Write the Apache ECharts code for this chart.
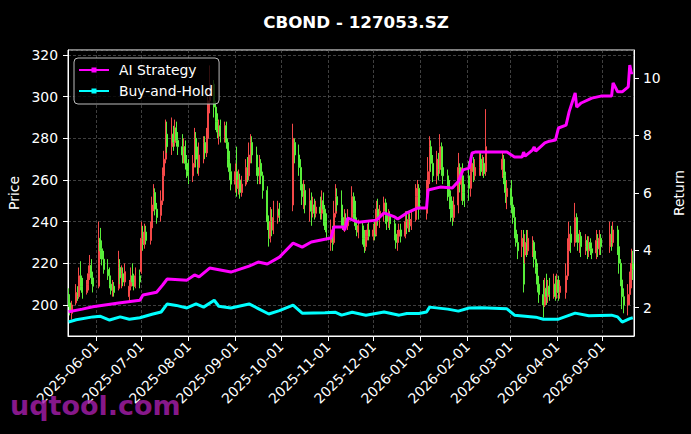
<!DOCTYPE html>
<html><head><meta charset="utf-8">
<script src="https://cdn.jsdelivr.net/npm/echarts@6/dist/echarts.min.js"></script>
<style>html,body{margin:0;padding:0;background:#000;}#c{width:691px;height:434px;}</style>
</head><body><div id="c"></div>
<script>
const chartTitle = 'CBOND - 127053.SZ';
const watermarkText = 'uqtool.com';
const priceAxisName = 'Price';
const returnAxisName = 'Return';
const seriesNames = ['AI Strategy', 'Buy-and-Hold'];

const tradeDates = [
'2025-05-14','2025-05-15','2025-05-16','2025-05-19','2025-05-20','2025-05-21','2025-05-22','2025-05-23','2025-05-26','2025-05-27','2025-05-28','2025-05-29','2025-05-30',
'2025-06-03','2025-06-04','2025-06-05','2025-06-06','2025-06-09','2025-06-10','2025-06-11','2025-06-12','2025-06-13','2025-06-16','2025-06-17','2025-06-18','2025-06-19','2025-06-20','2025-06-23','2025-06-24','2025-06-25','2025-06-26','2025-06-27','2025-06-30',
'2025-07-01','2025-07-02','2025-07-03','2025-07-04','2025-07-07','2025-07-08','2025-07-09','2025-07-10','2025-07-11','2025-07-14','2025-07-15','2025-07-16','2025-07-17','2025-07-18','2025-07-21','2025-07-22','2025-07-23','2025-07-24','2025-07-25','2025-07-28','2025-07-29','2025-07-30','2025-07-31',
'2025-08-01','2025-08-04','2025-08-05','2025-08-06','2025-08-07','2025-08-08','2025-08-11','2025-08-12','2025-08-13','2025-08-14','2025-08-15','2025-08-18','2025-08-19','2025-08-20','2025-08-21','2025-08-22','2025-08-25','2025-08-26','2025-08-27','2025-08-28','2025-08-29',
'2025-09-01','2025-09-02','2025-09-03','2025-09-04','2025-09-05','2025-09-08','2025-09-09','2025-09-10','2025-09-11','2025-09-12','2025-09-15','2025-09-16','2025-09-17','2025-09-18','2025-09-19','2025-09-22','2025-09-23','2025-09-24','2025-09-25','2025-09-26','2025-09-29','2025-09-30',
'2025-10-09','2025-10-10','2025-10-13','2025-10-14','2025-10-15','2025-10-16','2025-10-17','2025-10-20','2025-10-21','2025-10-22','2025-10-23','2025-10-24','2025-10-27','2025-10-28','2025-10-29','2025-10-30','2025-10-31',
'2025-11-03','2025-11-04','2025-11-05','2025-11-06','2025-11-07','2025-11-10','2025-11-11','2025-11-12','2025-11-13','2025-11-14','2025-11-17','2025-11-18','2025-11-19','2025-11-20','2025-11-21','2025-11-24','2025-11-25','2025-11-26','2025-11-27','2025-11-28',
'2025-12-01','2025-12-02','2025-12-03','2025-12-04','2025-12-05','2025-12-08','2025-12-09','2025-12-10','2025-12-11','2025-12-12','2025-12-15','2025-12-16','2025-12-17','2025-12-18','2025-12-19','2025-12-22','2025-12-23','2025-12-24','2025-12-25','2025-12-26','2025-12-29','2025-12-30','2025-12-31',
'2026-01-05','2026-01-06','2026-01-07','2026-01-08','2026-01-09','2026-01-12','2026-01-13','2026-01-14','2026-01-15','2026-01-16','2026-01-19','2026-01-20','2026-01-21','2026-01-22','2026-01-23','2026-01-26','2026-01-27','2026-01-28','2026-01-29','2026-01-30',
'2026-02-02','2026-02-03','2026-02-04','2026-02-05','2026-02-06','2026-02-09','2026-02-10','2026-02-11','2026-02-12','2026-02-13','2026-02-24','2026-02-25','2026-02-26','2026-02-27',
'2026-03-02','2026-03-03','2026-03-04','2026-03-05','2026-03-06','2026-03-09','2026-03-10','2026-03-11','2026-03-12','2026-03-13','2026-03-16','2026-03-17','2026-03-18','2026-03-19','2026-03-20','2026-03-23','2026-03-24','2026-03-25','2026-03-26','2026-03-27','2026-03-30','2026-03-31',
'2026-04-01','2026-04-02','2026-04-03','2026-04-07','2026-04-08','2026-04-09','2026-04-10','2026-04-13','2026-04-14','2026-04-15','2026-04-16','2026-04-17','2026-04-20','2026-04-21','2026-04-22','2026-04-23','2026-04-24','2026-04-27','2026-04-28','2026-04-29','2026-04-30',
'2026-05-06','2026-05-07','2026-05-08','2026-05-11','2026-05-12','2026-05-13','2026-05-14','2026-05-15','2026-05-18','2026-05-19','2026-05-20','2026-05-21'
];

// [open, close, low, high]
const ohlc = [
[205,201,199,208],[201,197,195,203],[196,200,193,202],[201,206,200,210],[206,204,202,209],[204,214,203,218],[214,209,207,221],[209,206,203,213],[206,210,205,212],[210,215,207,219],[215,219,212,224],[219,213,210,222],[213,209,206,216],
[209,230,208,240],[232,226,222,237],[227,222,219,231],[222,217,215,226],[217,214,212,222],[214,210,208,218],[210,207,205,213],[207,209,204,212],[209,206,204,211],[208,218,207,226],[218,213,210,222],[213,215,208,219],[215,211,209,218],[211,216,209,220],[204,209,201,212],[209,213,207,218],[214,211,209,220],[211,209,207,215],[209,214,208,218],[214,211,208,217],
[216,232,215,240],[232,229,226,238],[229,235,227,239],[235,231,229,238],[231,236,229,240],[237,248,235,252],[248,254,245,258],[254,246,243,256],[246,242,239,249],[243,250,240,255],[250,262,248,266],[262,270,259,274],[270,282,268,289],[282,276,273,288],[276,282,272,290],[282,278,274,286],[278,285,276,289],[285,279,276,288],[279,276,272,283],[276,272,268,282],[272,276,268,280],[276,268,265,279],[268,264,261,272],
[264,262,258,270],[262,268,259,272],[268,280,266,285],[280,270,266,283],[270,266,263,276],[266,272,262,278],[272,278,268,281],[278,273,270,281],[273,280,271,285],[280,298,276,303],[298,306,292,315],[306,295,290,308],[295,288,284,298],[288,283,280,292],[283,286,277,289],[286,281,278,289],[281,286,278,288],[286,278,275,288],[278,270,266,280],[270,264,260,274],[264,258,255,268],
[258,264,254,268],[264,256,252,276],[256,260,253,265],[260,254,251,263],[254,258,252,262],[258,266,257,270],[266,262,259,271],[262,272,260,278],[272,278,268,282],[278,272,268,281],[272,266,262,276],[266,262,258,271],[262,268,258,272],[268,262,258,270],[262,255,251,264],[255,240,236,257],[240,232,228,243],[232,240,230,247],[240,236,233,246],[236,242,234,250],[242,246,239,250],[246,243,240,249],
[248,280,245,287],[278,272,268,280],[272,266,262,277],[266,258,255,270],[258,252,248,262],[252,255,246,260],[255,248,244,258],[248,250,240,256],[250,245,238,254],[245,248,242,252],[248,244,241,251],[244,247,242,250],[247,244,241,252],[244,250,241,255],[250,246,238,254],[246,240,236,248],[240,235,231,244],
[230,236,226,241],[236,230,226,238],[230,244,229,250],[244,252,242,258],[252,248,245,256],[248,242,238,255],[242,238,236,248],[238,241,235,246],[241,238,236,244],[238,242,236,246],[242,252,241,257],[252,244,240,254],[244,238,236,250],[238,235,233,242],[235,238,232,241],[238,232,229,240],[232,228,225,236],[228,233,226,236],[233,236,231,239],[236,233,231,240],
[233,236,231,239],[236,233,231,240],[234,246,233,250],[246,242,238,251],[242,245,237,248],[245,249,240,252],[249,243,239,251],[243,240,236,246],[240,243,237,246],[243,239,236,245],[239,234,231,241],[234,230,227,238],[230,233,226,236],[233,236,231,239],[236,233,230,239],[233,240,232,245],[240,237,234,245],[237,241,235,245],[241,238,235,244],[238,241,236,245],[241,252,240,258],[252,256,247,260],[256,246,241,258],
[244,256,241,260],[256,264,250,271],[264,276,258,281],[276,268,264,279],[268,262,259,272],[262,270,258,274],[270,265,260,273],[265,276,263,282],[276,266,262,278],[266,262,258,269],[262,258,250,265],[258,252,246,260],[252,246,240,255],[246,242,238,250],[242,248,240,252],[248,266,244,273],[266,258,254,268],[258,262,250,266],[262,254,248,268],[254,250,247,258],
[262,256,250,269],[256,264,252,268],[264,268,260,271],[268,262,259,271],[262,266,260,270],[266,270,262,273],[270,264,262,273],[264,268,262,272],[268,263,261,271],[264,276,262,294],[265,270,261,273],[270,262,258,272],[262,254,249,264],[252,256,246,260],
[256,248,244,260],[248,242,239,252],[242,236,232,247],[236,230,228,240],[230,226,222,234],[228,232,223,236],[232,210,206,236],[224,230,220,234],[230,226,223,236],[226,232,224,236],[226,230,223,233],[230,222,218,231],[222,218,215,226],[218,210,206,220],[210,205,201,214],[205,200,194,212],[200,208,199,213],[208,204,200,215],[204,209,201,212],[209,205,202,213],[205,210,203,215],[210,204,202,214],
[206,212,203,215],[212,206,202,214],[206,209,203,212],[206,214,203,220],[214,226,212,232],[226,234,222,240],[234,230,225,238],[230,242,228,249],[242,234,230,244],[234,230,226,238],[230,233,225,236],[233,228,223,235],[228,231,224,234],[231,226,222,233],[226,230,223,233],[230,227,224,232],[227,225,222,230],[225,231,222,236],[231,227,223,234],[227,232,224,236],[232,228,224,234],
[228,234,225,240],[234,230,226,238],[230,236,228,240],[236,228,224,238],[228,220,215,230],[220,212,209,222],[212,204,198,216],[204,200,196,208],[200,205,195,210],[205,212,200,216],[212,220,208,227],[220,217,212,226]
];

const aiDates = ['2025-05-14','2025-05-23','2025-05-30','2025-06-16','2025-06-30','2025-07-02','2025-07-11','2025-07-15','2025-07-18','2025-07-31','2025-08-05','2025-08-08','2025-08-15','2025-08-29','2025-09-10','2025-09-16','2025-09-22','2025-09-30','2025-10-09','2025-10-15','2025-10-21','2025-11-03','2025-11-05','2025-11-11','2025-11-12','2025-11-14','2025-11-21','2025-12-03','2025-12-08','2025-12-15','2025-12-17','2025-12-23','2025-12-30','2026-01-05','2026-01-06','2026-01-14','2026-01-22','2026-01-26','2026-01-29','2026-02-02','2026-02-04','2026-02-06','2026-02-27','2026-03-04','2026-03-09','2026-03-10','2026-03-11','2026-03-16','2026-03-17','2026-03-18','2026-03-24','2026-03-27','2026-03-31','2026-04-02','2026-04-07','2026-04-09','2026-04-13','2026-04-14','2026-04-17','2026-04-24','2026-04-30','2026-05-07','2026-05-08','2026-05-11','2026-05-14','2026-05-18','2026-05-19','2026-05-20','2026-05-21'];
const aiReturn = [1.86,1.95,2.03,2.16,2.26,2.44,2.54,2.79,3.00,2.96,3.14,3.07,3.38,3.24,3.45,3.59,3.52,3.76,4.25,4.11,4.29,4.43,4.81,4.81,4.70,5.12,4.98,5.05,5.30,5.16,5.09,5.30,5.47,5.47,6.10,6.20,6.17,6.40,6.80,6.86,7.39,7.42,7.42,7.25,7.25,7.42,7.28,7.50,7.60,7.45,7.74,7.80,7.84,8.26,8.36,8.82,9.48,8.99,9.13,9.30,9.37,9.37,9.83,9.52,9.52,9.69,10.45,10.17,10.20];

const bhDates = ['2025-05-14','2025-05-19','2025-05-30','2025-06-04','2025-06-10','2025-06-17','2025-06-23','2025-06-30','2025-07-08','2025-07-14','2025-07-18','2025-07-24','2025-07-31','2025-08-06','2025-08-11','2025-08-18','2025-08-21','2025-08-29','2025-09-10','2025-09-16','2025-09-23','2025-09-30','2025-10-09','2025-10-15','2025-10-30','2025-11-06','2025-11-10','2025-11-17','2025-11-26','2025-12-08','2025-12-18','2025-12-23','2025-12-31','2026-01-05','2026-01-07','2026-01-19','2026-01-26','2026-02-02','2026-02-10','2026-02-27','2026-03-04','2026-03-18','2026-03-23','2026-04-02','2026-04-13','2026-04-22','2026-05-07','2026-05-11','2026-05-14','2026-05-19','2026-05-21'];
const bhReturn = [1.50,1.58,1.68,1.70,1.57,1.68,1.60,1.65,1.77,1.85,2.13,2.08,1.99,2.13,2.02,2.26,2.05,1.99,2.13,1.97,1.78,1.90,2.09,1.81,1.82,1.84,1.74,1.84,1.74,1.85,1.74,1.80,1.80,1.85,2.02,1.95,1.88,1.99,2.00,1.96,1.74,1.67,1.60,1.60,1.81,1.72,1.74,1.68,1.50,1.62,1.65];

const FONT = '"DejaVu Sans", sans-serif';
const RED = '#f44848', GREEN = '#58ee3a', MAGENTA = '#ff00ff', CYAN = '#00ffff';
const GRIDLINE = {show: true, lineStyle: {color: '#5a5a5a', width: 0.7, type: [3, 2]}};
const legendIcon = 'path://M0,1.5H30V3.5H0Z M12.5,0H17.5V5H12.5Z';

const chart = echarts.init(document.getElementById('c'), null, {renderer: 'svg'});
const candleData = tradeDates.map((d, i) => [d].concat(ohlc[i]));
const aiData = aiDates.map((d, i) => [d, aiReturn[i]]);
const bhData = bhDates.map((d, i) => [d, bhReturn[i]]);

chart.setOption({
  animation: false,
  backgroundColor: '#000',
  title: {text: chartTitle, left: 351, textAlign: 'center', top: 8,
    textStyle: {color: '#fff', fontSize: 16.7, fontWeight: 'bold', fontFamily: FONT}},
  legend: {orient: 'vertical', left: 74, top: 58, padding: [5, 6, 6, 5], itemGap: 7,
    itemWidth: 30, itemHeight: 5, backgroundColor: 'rgba(0,0,0,0.8)', borderColor: '#bbb',
    borderWidth: 1, borderRadius: 4,
    textStyle: {color: '#fff', fontSize: 13.9, fontFamily: FONT, padding: [0, 0, 0, 5]},
    data: [{name: seriesNames[0], icon: legendIcon}, {name: seriesNames[1], icon: legendIcon}]},
  grid: {left: 68, right: 57, top: 50, bottom: 98, show: true, borderColor: '#fff', borderWidth: 1,
    containLabel: false, outerBoundsMode: 'none'},
  xAxis: {type: 'time', min: new Date(2025, 4, 13, 14).getTime(), max: new Date(2026, 4, 21, 19).getTime(),
    splitNumber: 12, minInterval: 28 * 864e5, maxInterval: 31 * 864e5,
    axisLine: {show: true, lineStyle: {color: '#fff'}},
    axisTick: {show: true, length: 5, lineStyle: {color: '#fff'}},
    axisLabel: {rotate: 45, color: '#fff', fontSize: 13.9, fontFamily: FONT, margin: 8,
      formatter: '{yyyy}-{MM}-{dd}', showMinLabel: false, showMaxLabel: false, hideOverlap: false},
    splitLine: GRIDLINE},
  yAxis: [
    {type: 'value', position: 'left', min: 185.1, max: 322.4, splitNumber: 7, scale: true,
      name: priceAxisName, nameLocation: 'middle', nameGap: 40, nameRotate: 90,
      nameTextStyle: {color: '#fff', fontSize: 13.9, fontFamily: FONT},
      axisLine: {show: true, lineStyle: {color: '#fff'}},
      axisTick: {show: true, length: 5, lineStyle: {color: '#fff'}},
      axisLabel: {color: '#fff', fontSize: 13.9, fontFamily: FONT, margin: 10, showMinLabel: false, showMaxLabel: false},
      splitLine: GRIDLINE},
    {type: 'value', position: 'right', min: 1.014, max: 10.976, splitNumber: 5, scale: true,
      name: returnAxisName, nameLocation: 'middle', nameGap: 28, nameRotate: 90,
      nameTextStyle: {color: '#fff', fontSize: 13.9, fontFamily: FONT},
      axisLine: {show: true, lineStyle: {color: '#fff'}},
      axisTick: {show: true, length: 5, lineStyle: {color: '#fff'}},
      axisLabel: {color: '#fff', fontSize: 13.9, fontFamily: FONT, margin: 9, showMinLabel: false, showMaxLabel: false},
      splitLine: {show: false}}
  ],
  graphic: [{type: 'text', left: 10, top: 392, z: 100,
    style: {text: watermarkText, fill: 'rgba(165,30,170,0.82)', font: 'bold 27px "DejaVu Sans"'}}],
  series: [
    {type: 'candlestick', name: 'Price', yAxisIndex: 0, data: candleData, encode: {x: 0, y: [1, 2, 3, 4]},
      barWidth: 1.5, itemStyle: {color: RED, color0: GREEN, borderColor: RED, borderColor0: GREEN, borderWidth: 1}, z: 1},
    {type: 'line', name: seriesNames[0], yAxisIndex: 1, data: aiData, showSymbol: false, symbol: 'none',
      lineStyle: {color: MAGENTA, width: 3}, itemStyle: {color: MAGENTA}, z: 5},
    {type: 'line', name: seriesNames[1], yAxisIndex: 1, data: bhData, showSymbol: false, symbol: 'none',
      lineStyle: {color: CYAN, width: 3}, itemStyle: {color: CYAN}, z: 5}
  ]
});
</script></body></html>
